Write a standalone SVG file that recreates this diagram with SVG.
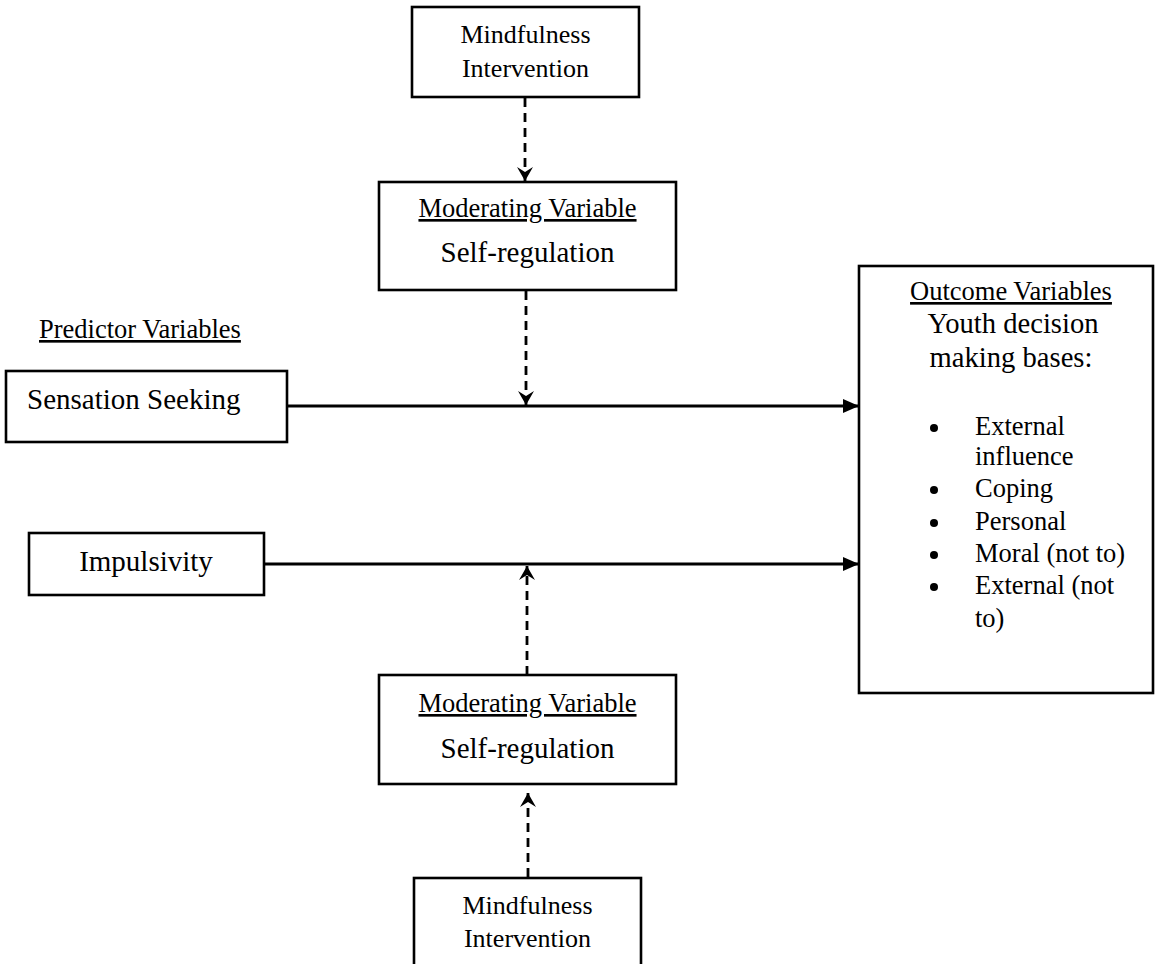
<svg xmlns="http://www.w3.org/2000/svg" width="1155" height="964" viewBox="0 0 1155 964">
<defs>
<style>
.box{fill:#fff;stroke:#000;stroke-width:2.6}
.t{font-family:"Liberation Serif","Times New Roman",serif;fill:#000}
.m{text-anchor:middle}
.u{text-decoration:underline}
.solid{stroke:#000;stroke-width:2.8;fill:none}
.dash{stroke:#000;stroke-width:2.8;fill:none;stroke-dasharray:9 6}
</style>
<marker id="ah" viewBox="-15 -9 16 18" refX="0" refY="0" markerWidth="16" markerHeight="18" markerUnits="userSpaceOnUse" orient="auto">
<path d="M0,0 L-14,-8 L-9,0 L-14,8 Z" fill="#000"/>
</marker>
<marker id="as" viewBox="-16 -8 17 16" refX="0" refY="0" markerWidth="17" markerHeight="16" markerUnits="userSpaceOnUse" orient="auto">
<path d="M0,0 L-16,-7 L-16,7 Z" fill="#000"/>
</marker>
</defs>
<rect width="1155" height="964" fill="#fff"/>

<g id="connectors">
<line class="dash" x1="525" y1="98" x2="525" y2="181" marker-end="url(#ah)"/>
<line class="dash" x1="526" y1="291" x2="526" y2="405" marker-end="url(#ah)"/>
<line class="solid" x1="287" y1="406" x2="859" y2="406" marker-end="url(#as)"/>
<line class="solid" x1="264" y1="564" x2="859" y2="564" marker-end="url(#as)"/>
<line class="dash" x1="527" y1="675" x2="527" y2="566" marker-end="url(#ah)"/>
<line class="dash" x1="528" y1="877" x2="528" y2="793" marker-end="url(#ah)"/>
</g>

<g id="mindfulness-top">
<rect class="box" x="412" y="7" width="227" height="90"/>
<text class="t m" x="525.5" y="43" font-size="26">Mindfulness</text>
<text class="t m" x="525.5" y="77" font-size="26">Intervention</text>
</g>

<g id="moderating-top">
<rect class="box" x="379" y="182" width="297" height="108"/>
<text class="t m u" x="527.5" y="217" font-size="26.5">Moderating Variable</text>
<text class="t m" x="527.5" y="262" font-size="29">Self-regulation</text>
</g>

<g id="predictor-label">
<text class="t u" x="39" y="338" font-size="26.5">Predictor Variables</text>
</g>

<g id="sensation-seeking">
<rect class="box" x="6" y="371" width="281" height="71"/>
<text class="t" x="27" y="409" font-size="29">Sensation Seeking</text>
</g>

<g id="impulsivity">
<rect class="box" x="29" y="533" width="235" height="62"/>
<text class="t m" x="146" y="571" font-size="29">Impulsivity</text>
</g>

<g id="outcome">
<rect class="box" x="859" y="266" width="294" height="427"/>
<text class="t m u" x="1011" y="300" font-size="26.5">Outcome Variables</text>
<text class="t m" x="1013" y="333" font-size="28.6">Youth decision</text>
<text class="t m" x="1011" y="367" font-size="28.6">making bases:</text>
<circle cx="934" cy="428" r="4"/>
<text class="t" x="975" y="435" font-size="26.5">External</text>
<text class="t" x="975" y="465" font-size="26.5">influence</text>
<circle cx="934" cy="490" r="4"/>
<text class="t" x="975" y="497" font-size="26.5">Coping</text>
<circle cx="934" cy="523" r="4"/>
<text class="t" x="975" y="530" font-size="26.5">Personal</text>
<circle cx="934" cy="555" r="4"/>
<text class="t" x="975" y="562" font-size="26.5">Moral (not to)</text>
<circle cx="934" cy="587" r="4"/>
<text class="t" x="975" y="594" font-size="26.5">External (not</text>
<text class="t" x="975" y="627" font-size="26.5">to)</text>
</g>

<g id="moderating-bottom">
<rect class="box" x="379" y="675" width="297" height="109"/>
<text class="t m u" x="527.5" y="712" font-size="26.5">Moderating Variable</text>
<text class="t m" x="527.5" y="758" font-size="29">Self-regulation</text>
</g>

<g id="mindfulness-bottom">
<rect class="box" x="414" y="878" width="227" height="100"/>
<text class="t m" x="527.5" y="914" font-size="26">Mindfulness</text>
<text class="t m" x="527.5" y="947" font-size="26">Intervention</text>
</g>
</svg>
